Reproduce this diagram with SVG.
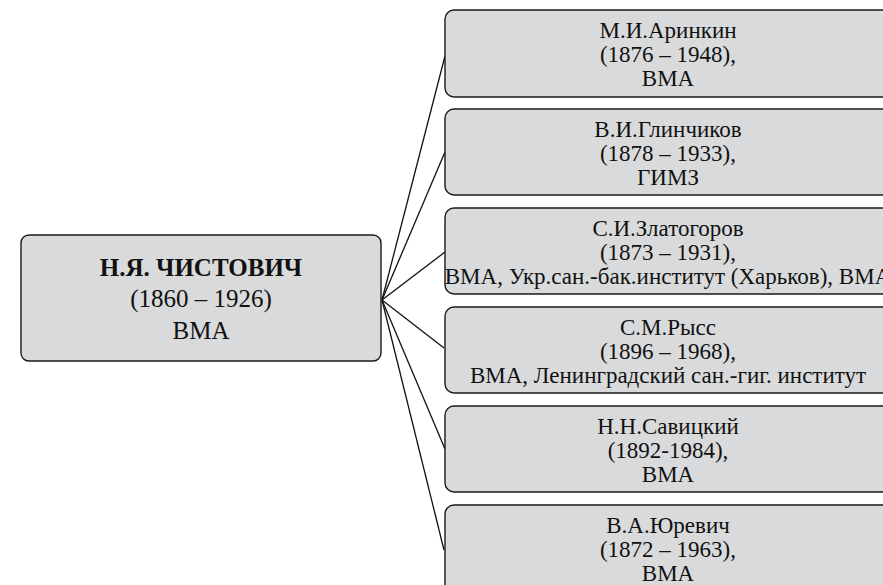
<svg xmlns="http://www.w3.org/2000/svg" width="883" height="585" viewBox="0 0 883 585">
<style>
.box{fill:#d9dadb;stroke:#1a1a1a;stroke-width:1.4}
.t{fill:#111;text-anchor:middle}
.rt{font-size:23px}
.lt{font-size:25px}
.b{font-weight:bold}
.c{stroke:#111;stroke-width:1.3;fill:none}
</style>
<rect width="883" height="585" fill="#ffffff"/>
<g id="connectors">
<line class="c" x1="382" y1="300" x2="445" y2="56"/>
<line class="c" x1="382" y1="300" x2="445" y2="152"/>
<line class="c" x1="382" y1="300" x2="445" y2="252"/>
<line class="c" x1="382" y1="300" x2="444" y2="348"/>
<line class="c" x1="382" y1="300" x2="445" y2="449"/>
<line class="c" x1="382" y1="300" x2="444" y2="550"/>
</g>
<g font-family="Liberation Serif, Tinos, Times New Roman, serif">
<g id="root">
<rect class="box" x="21" y="235" width="360" height="126" rx="8"/>
<text class="t lt b" x="201" y="276">Н.Я. ЧИСТОВИЧ</text>
<text class="t lt" x="201" y="307">(1860 – 1926)</text>
<text class="t lt" x="201" y="339">ВМА</text>
</g>
<g id="n1">
<rect class="box" x="445" y="10" width="446" height="87" rx="9"/>
<text class="t rt" x="668" y="38">М.И.Аринкин</text>
<text class="t rt" x="668" y="62">(1876 – 1948),</text>
<text class="t rt" x="668" y="86">ВМА</text>
</g>
<g id="n2">
<rect class="box" x="445" y="109" width="446" height="86" rx="9"/>
<text class="t rt" x="668" y="137">В.И.Глинчиков</text>
<text class="t rt" x="668" y="161">(1878 – 1933),</text>
<text class="t rt" x="668" y="185">ГИМЗ</text>
</g>
<g id="n3">
<rect class="box" x="445" y="208" width="446" height="86" rx="9"/>
<text class="t rt" x="668" y="236">С.И.Златогоров</text>
<text class="t rt" x="668" y="260">(1873 – 1931),</text>
<text class="t rt" x="668" y="284">ВМА, Укр.сан.-бак.институт (Харьков), ВМА</text>
</g>
<g id="n4">
<rect class="box" x="445" y="307" width="446" height="86" rx="9"/>
<text class="t rt" x="668" y="335">С.М.Рысс</text>
<text class="t rt" x="668" y="359">(1896 – 1968),</text>
<text class="t rt" x="668" y="383">ВМА, Ленинградский сан.-гиг. институт</text>
</g>
<g id="n5">
<rect class="box" x="445" y="406" width="446" height="86" rx="9"/>
<text class="t rt" x="668" y="434">Н.Н.Савицкий</text>
<text class="t rt" x="668" y="458">(1892-1984),</text>
<text class="t rt" x="668" y="482">ВМА</text>
</g>
<g id="n6">
<rect class="box" x="445" y="505" width="446" height="100" rx="9"/>
<text class="t rt" x="668" y="533">В.А.Юревич</text>
<text class="t rt" x="668" y="557">(1872 – 1963),</text>
<text class="t rt" x="668" y="581">ВМА</text>
</g>
</g>
</svg>
